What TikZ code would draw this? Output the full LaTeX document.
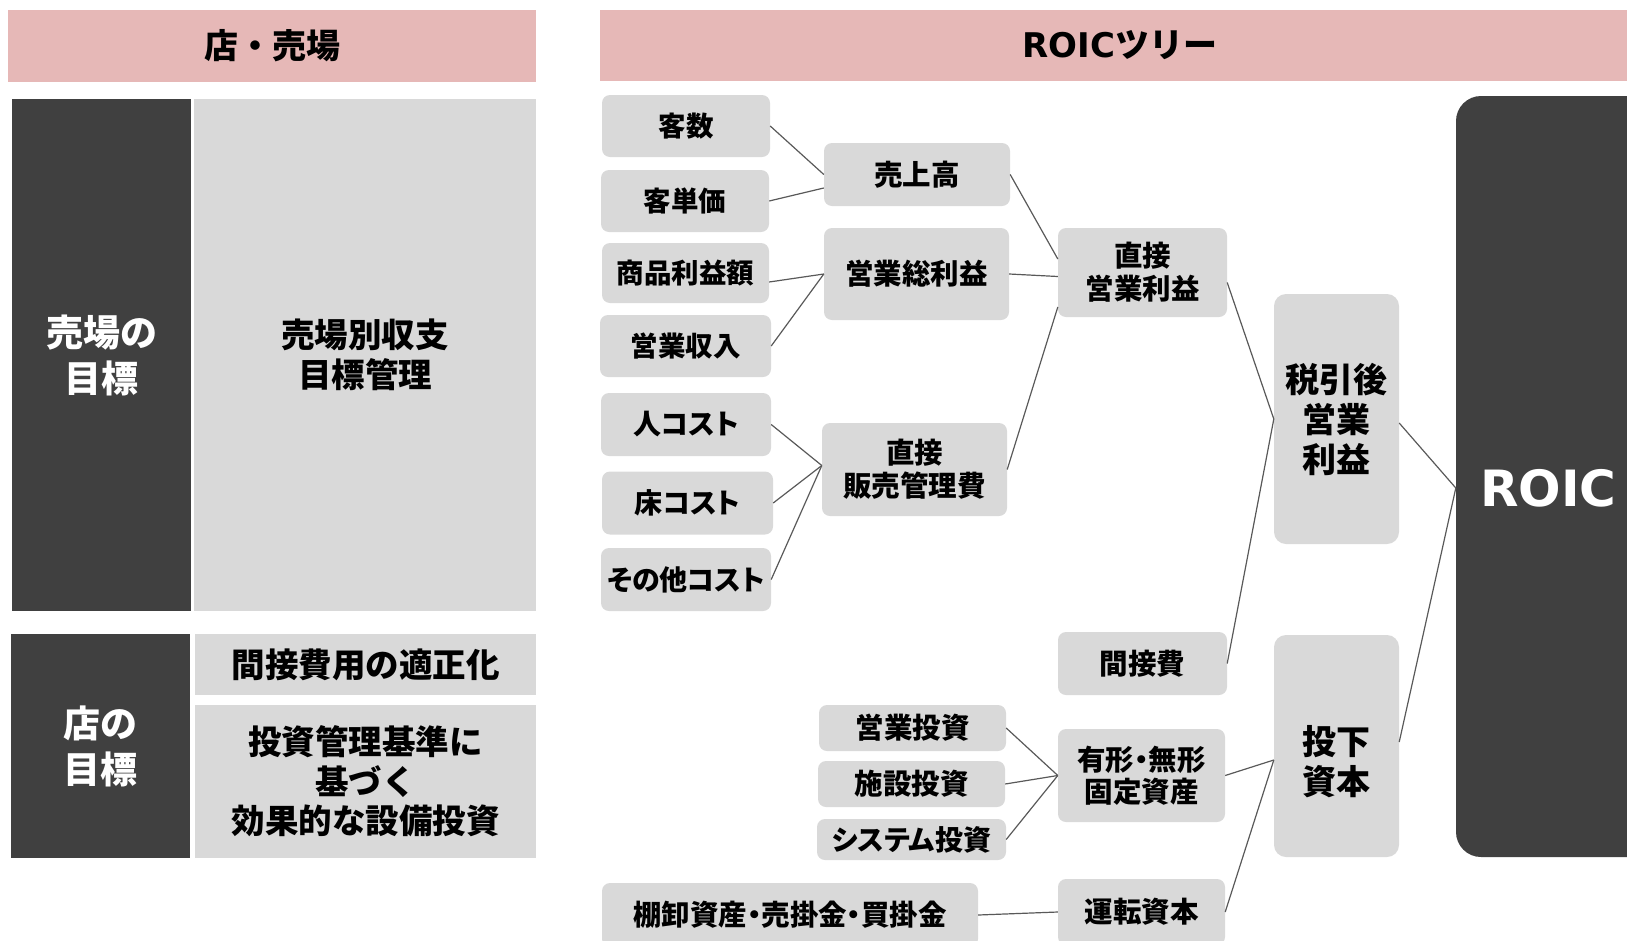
\documentclass[tikz,border=0pt]{standalone}
\usepackage{fontspec}
\newfontfamily\jp{Noto Sans CJK JP}
\newfontfamily\jpp{Noto Sans CJK JP}[RawFeature=+palt]
\newfontfamily\lat{DejaVu Sans}
\usetikzlibrary{calc}
\definecolor{pinkh}{HTML}{E6B8B7}
\definecolor{lgray}{HTML}{D9D9D9}
\definecolor{dgray}{HTML}{404040}
\definecolor{lnc}{HTML}{595959}
\begin{document}
\begin{tikzpicture}[x=1pt,y=-1pt,
  every node/.style={inner sep=0pt, align=center},
  hdr/.style={fill=pinkh, font=\jp\bfseries\fontsize{34}{40}\selectfont},
  darkcell/.style={fill=dgray, text=white, font=\jp\bfseries\fontsize{37}{46}\selectfont},
  lightcell/.style={fill=lgray, font=\jp\bfseries\fontsize{33.5}{39.5}\selectfont},
  leaf/.style={fill=lgray, rounded corners=8pt, font=\jp\bfseries\fontsize{27.5}{33}\selectfont},
  kleaf/.style={leaf, font=\jpp\bfseries\fontsize{28}{33}\selectfont},
  mid/.style={fill=lgray, rounded corners=8pt, font=\jp\bfseries\fontsize{28.5}{33}\selectfont},
  kmid/.style={mid, font=\jpp\bfseries\fontsize{28.5}{32}\selectfont},
  big/.style={fill=lgray, rounded corners=12pt},
  bigtext/.style={font=\jp\bfseries\fontsize{34}{40}\selectfont},
  conn/.style={draw=lnc, line width=1.2pt},
]
\useasboundingbox (0,0) rectangle (1627,940);
\clip (0,0) rectangle (1627,940);

% ---- left panel ----
\node[hdr, minimum width=528pt, minimum height=72pt] (hdrL) at (272,46) {店・売場};
\node[darkcell, minimum width=179pt, minimum height=512pt] (dark1) at (101.5,355) {売場の\\目標};
\node[lightcell, minimum width=342pt, minimum height=512pt] (light1) at (365,355) {売場別収支\\目標管理};
\node[darkcell, minimum width=179pt, minimum height=224pt] (dark2) at (100.5,746) {店の\\目標};
\node[lightcell, minimum width=341pt, minimum height=61pt] (light2) at (365.5,664.5) {間接費用の適正化};
\node[lightcell, minimum width=341pt, minimum height=153pt] (light3) at (365.5,781.5) {投資管理基準に\\基づく\\効果的な設備投資};

% ---- right header ----
\node[hdr, minimum width=1040pt, minimum height=71pt] (hdrR) at (1120,45.5) {{\lat\bfseries ROIC}ツリー};

% ---- tree: leaves ----
\node[leaf, minimum width=168pt, minimum height=62pt] (kyakusu) at (686,126) {客数};
\node[leaf, minimum width=168pt, minimum height=62pt] (kyakutanka) at (685,201) {客単価};
\node[leaf, minimum width=167pt, minimum height=60pt] (shohin) at (685.5,273) {商品利益額};
\node[leaf, minimum width=171pt, minimum height=62pt] (eigyoshunyu) at (685.5,346) {営業収入};
\node[kleaf, minimum width=170pt, minimum height=63pt] (hito) at (686,424.5) {人コスト};
\node[kleaf, minimum width=171pt, minimum height=63pt] (yuka) at (687.5,503) {床コスト};
\node[kleaf, minimum width=170pt, minimum height=63pt] (sonota) at (686,579.5) {その他コスト};

% ---- tree: middle ----
\node[mid, minimum width=186pt, minimum height=63pt] (uriage) at (917,174.5) {売上高};
\node[mid, minimum width=185pt, minimum height=92pt] (sorieki) at (916.5,274) {営業総利益};
\node[mid, minimum width=185pt, minimum height=93pt] (hankan) at (914.5,469.5) {直接\\販売管理費};
\node[mid, minimum width=169pt, minimum height=89pt] (chokueigyo) at (1142.5,272.5) {直接\\営業利益};
\node[mid, minimum width=169pt, minimum height=63pt] (kansetsu) at (1142.5,663.5) {間接費};

\node[leaf, font=\jp\bfseries\fontsize{28.5}{33}\selectfont, minimum width=187pt, minimum height=46pt] (eigyotoshi) at (912.5,728) {営業投資};
\node[leaf, font=\jp\bfseries\fontsize{28.5}{33}\selectfont, minimum width=187pt, minimum height=46pt] (shisetsu) at (911.5,784) {施設投資};
\node[kleaf, minimum width=189pt, minimum height=41pt] (system) at (911.5,839.5) {システム投資};
\node[kmid, minimum width=167pt, minimum height=93pt] (yukei) at (1141.5,775.5) {有形・無形\\固定資産};
\node[mid, minimum width=167pt, minimum height=66pt] (unten) at (1141.5,912) {運転資本};
\node[kmid, minimum width=376pt, minimum height=64pt] (tana) at (790,915) {棚卸資産・売掛金・買掛金};

% ---- tree: right ----
\node[big, bigtext, minimum width=125pt, minimum height=250pt] (zeibiki) at (1336.5,419) {税引後\\営業\\利益};
\node[big, minimum width=125pt, minimum height=222pt] (toka) at (1336.5,746) {};
\node[bigtext] (tokat) at (1336.5,762) {投下\\資本};
\node[fill=dgray, rounded corners=25pt, minimum width=200pt, minimum height=761pt] (roic) at (1556,476.5) {};
\node[text=white, font=\lat\bfseries\fontsize{50}{56}\selectfont] (roict) at (1548.5,488) {ROIC};

% ---- connectors ----
\draw[conn] (kyakusu.east) -- (uriage.west);
\draw[conn] (kyakutanka.east) -- ($(uriage.west)+(0,13.5)$);
\draw[conn] ($(shohin.east)+(0,9)$) -- (sorieki.west);
\draw[conn] (eigyoshunyu.east) -- (sorieki.west);
\draw[conn] (hito.east) -- ($(hankan.west)+(0,-4)$);
\draw[conn] (yuka.east) -- ($(hankan.west)+(0,-4)$);
\draw[conn] (sonota.east) -- ($(hankan.west)+(0,-4)$);
\draw[conn] (uriage.east) -- ($(chokueigyo.west)+(0,-13.5)$);
\draw[conn] (sorieki.east) -- ($(chokueigyo.west)+(0,4)$);
\draw[conn] (hankan.east) -- ($(chokueigyo.west)+(0,34.5)$);
\draw[conn] ($(chokueigyo.east)+(0,10)$) -- (zeibiki.west);
\draw[conn] (kansetsu.east) -- (zeibiki.west);
\draw[conn] ($(zeibiki.east)+(0,4)$) -- ($(roic.west)+(0,11.5)$);
\draw[conn] ($(toka.east)+(0,-4)$) -- ($(roic.west)+(0,11.5)$);
\draw[conn] (eigyotoshi.east) -- (yukei.west);
\draw[conn] (shisetsu.east) -- (yukei.west);
\draw[conn] (system.east) -- (yukei.west);
\draw[conn] (yukei.east) -- ($(toka.west)+(0,14)$);
\draw[conn] (unten.east) -- ($(toka.west)+(0,14)$);
\draw[conn] (tana.east) -- (unten.west);
\end{tikzpicture}
\end{document}
